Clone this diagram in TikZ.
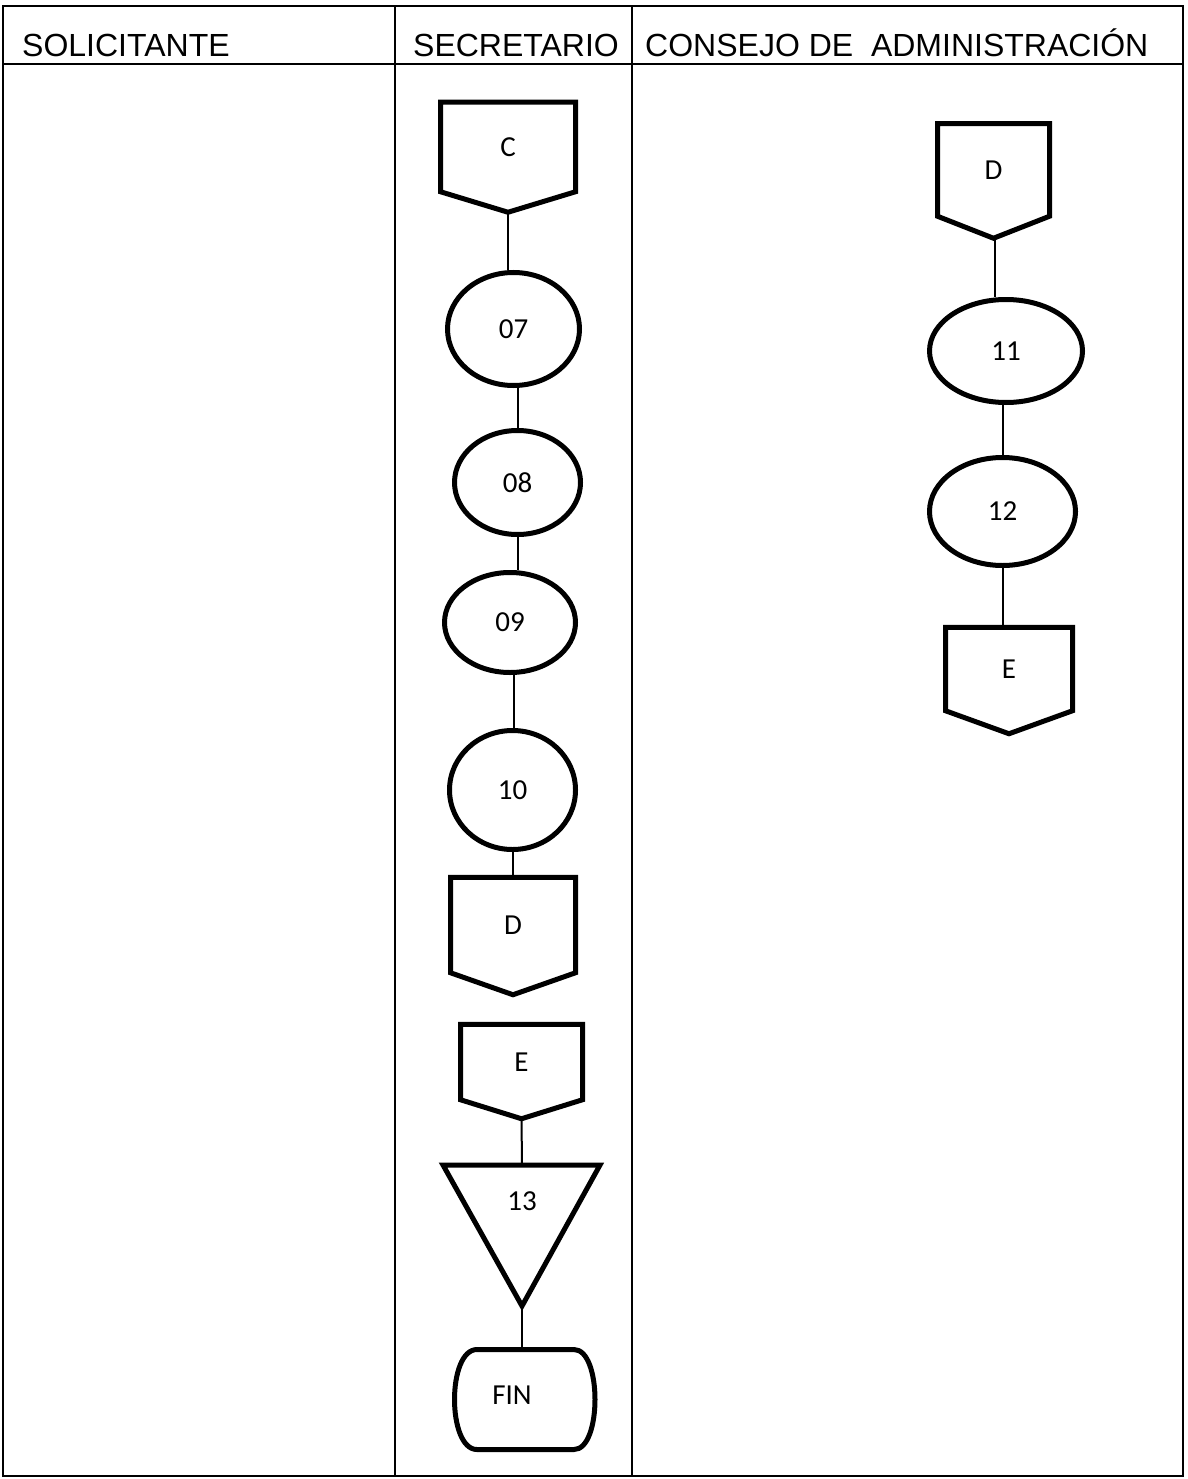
\documentclass[tikz,border=0pt]{standalone}
\usepackage{fontspec}
\setmainfont{Liberation Sans}
\newfontfamily\lblfont{Carlito}
\usetikzlibrary{positioning,shapes.geometric}

\newcommand{\lblsize}{\lblfont\fontsize{29}{32}\selectfont}
% off-page connector drawn round a node
\newcommand{\offpage}[2]{%
  \draw[box] (#1.north west) -- (#1.north east) -- (#1.south east)
    -- ([yshift=-#2pt]#1.south) coordinate (#1-tip) -- (#1.south west) -- cycle;}

\begin{document}
\begin{tikzpicture}[x=1pt,y=-1pt,
  grid/.style={line width=1.6pt},
  box/.style={line width=5pt},
  link/.style={line width=2pt},
  proc/.style={ellipse,draw,line width=5pt,inner sep=0pt,font=\lblsize},
  page/.style={rectangle,inner sep=0pt,outer sep=0pt,font=\lblsize},
  head/.style={anchor=base west,inner sep=0pt,font=\fontsize{32}{38}\selectfont}]

  \useasboundingbox (0,0) rectangle (1187,1479);

  % lanes
  \draw[grid] (3,6) rectangle (1183,1476);
  \draw[grid] (3,64) -- (1183,64);
  \draw[grid] (395,6) -- (395,1476);
  \draw[grid] (632,6) -- (632,1476);

  \node[head] (hsol) at (22,57) {SOLICITANTE};
  \node[head] (hsec) at (413,57) {SECRETARIO};
  \node[head] (hcon) at (645,57) {CONSEJO DE\ \ ADMINISTRACIÓN};

  % secretario
  \node[page,minimum width=135,minimum height=89.5] (conC) at (508,147) {C};
  \offpage{conC}{20.5}
  \node[proc,minimum width=132,minimum height=113] (p07) at (513.5,329) {07};
  \node[proc,minimum width=126,minimum height=104] (p08) at (517.5,482.5) {08};
  \node[proc,minimum width=131,minimum height=100] (p09) at (510,622.5) {09};
  \node[proc,minimum width=126,minimum height=119] (p10) at (512.5,790) {10};
  \node[page,minimum width=125,minimum height=95.5] (conD) at (513,925) {D};
  \offpage{conD}{22}
  \node[page,minimum width=122,minimum height=75.5] (conE) at (521.5,1062) {E};
  \offpage{conE}{19}

  \coordinate (tri-top) at (522,1165);
  \draw[box] (443,1165) -- (600,1165) -- (522,1306) coordinate (tri-tip) -- cycle;
  \node[page] (p13) at (522,1201) {13};

  \coordinate (fin-top) at (522,1349.5);
  \draw[box] (477,1349.5) -- (574,1349.5)
    .. controls (602,1349.5) and (602,1449.5) .. (574,1449.5) -- (477,1449.5)
    .. controls (447,1449.5) and (447,1349.5) .. (477,1349.5) -- cycle;
  \node[page] (fin) at (512,1395) {FIN};

  \draw[link] (conC-tip) -- (conC-tip |- p07.north);
  \draw[link] (p08.north) -- (p08.north |- p07.south);
  \draw[link] (p08.south) -- (p08.south |- p09.north);
  \draw[link] ([xshift=4pt]p09.south) -- ([xshift=4pt]p09.south |- p10.north);
  \draw[link] (conD.north) -- (conD.north |- p10.south);
  \draw[link] (conE-tip) -- (tri-top);
  \draw[link] (tri-tip) -- (fin-top);

  % consejo de administracion
  \node[page,minimum width=112,minimum height=92.5] (conD2) at (993.5,170) {D};
  \offpage{conD2}{22}
  \node[proc,minimum width=153,minimum height=103] (p11) at (1006,351) {11};
  \node[proc,minimum width=146,minimum height=108] (p12) at (1002.5,511.5) {12};
  \node[page,minimum width=127,minimum height=83.5] (conE2) at (1009,669) {E};
  \offpage{conE2}{23}

  \draw[link] ([xshift=1.5pt]conD2-tip) -- ([xshift=1.5pt]conD2-tip |- p11.north);
  \draw[link] (p12.north) -- (p12.north |- p11.south);
  \draw[link] (p12.south) -- (p12.south |- conE2.north);
\end{tikzpicture}
\end{document}
